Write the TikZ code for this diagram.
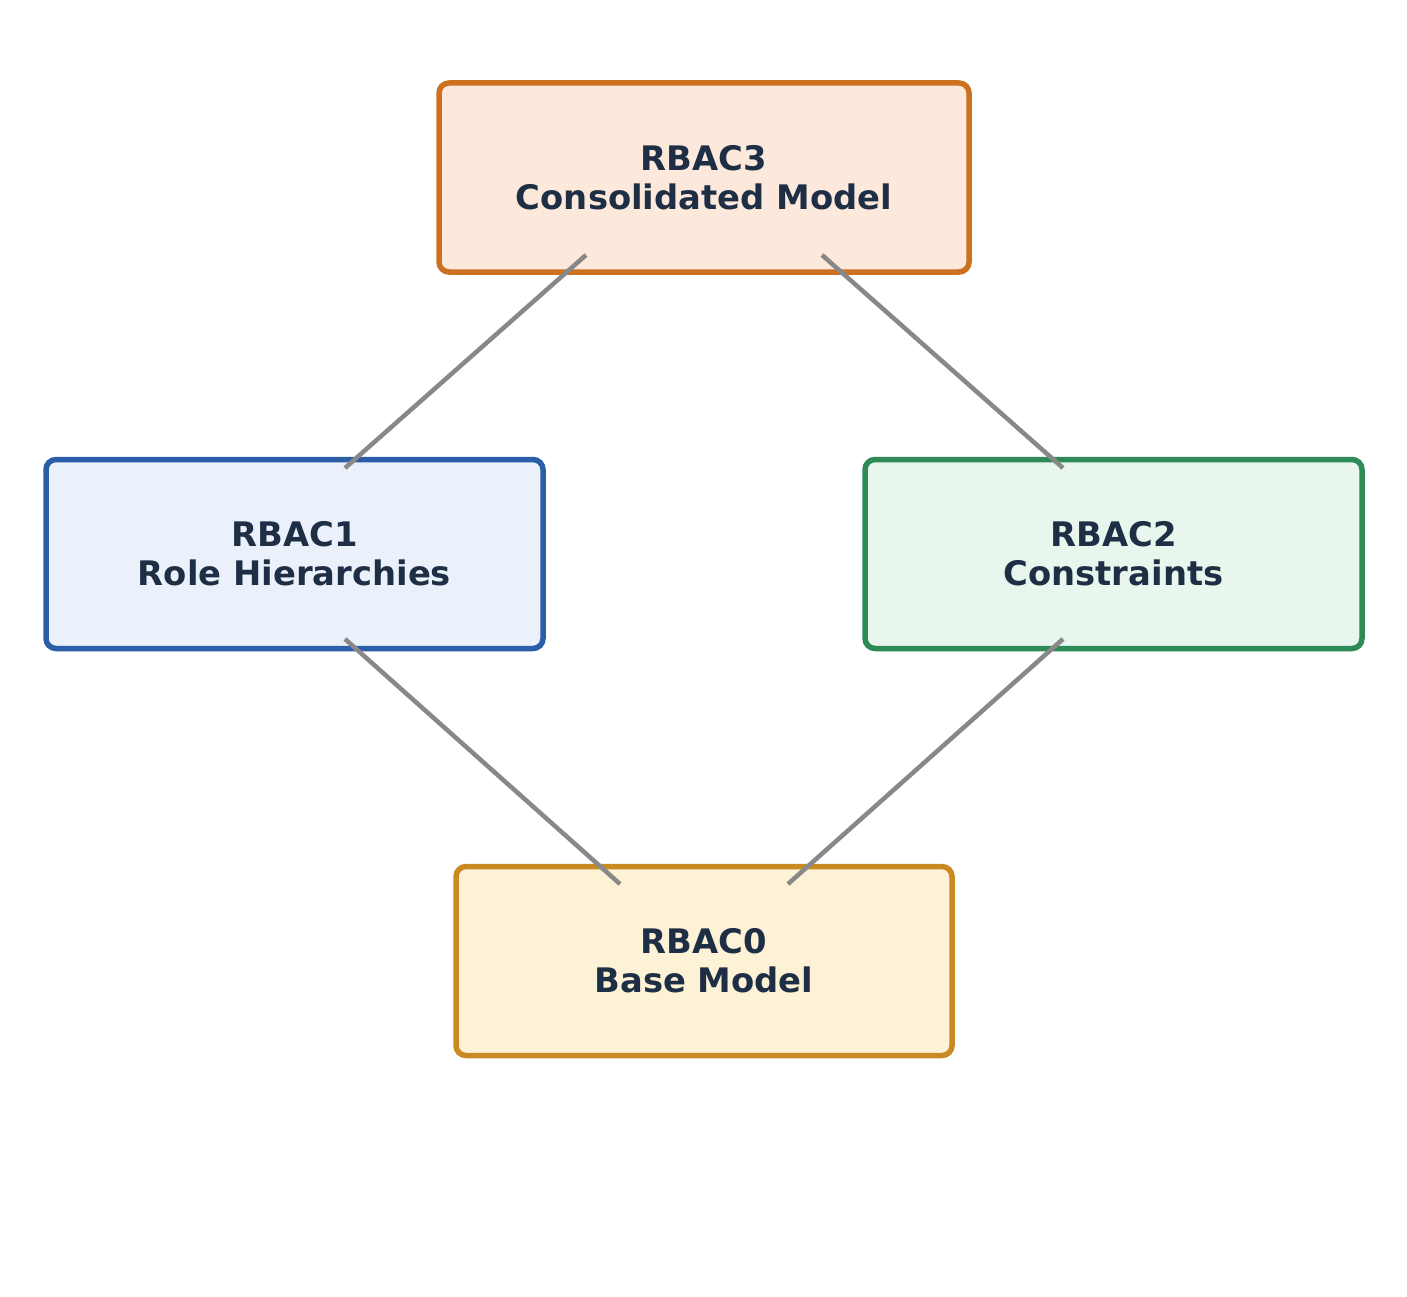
\documentclass[tikz,border=0pt]{standalone}
\usepackage{fontspec}
\setmainfont{DejaVu Sans}
\usetikzlibrary{calc}
\definecolor{txt}{HTML}{1E2F45}
\definecolor{link}{HTML}{888888}
\definecolor{fThree}{HTML}{FCE9DC}\definecolor{bThree}{HTML}{CC7022}
\definecolor{fOne}{HTML}{EAF1FB}\definecolor{bOne}{HTML}{2B5EA8}
\definecolor{fTwo}{HTML}{E8F6EE}\definecolor{bTwo}{HTML}{2E8B57}
\definecolor{fZero}{HTML}{FEF2D6}\definecolor{bZero}{HTML}{C98A22}
\tikzset{
  level/.style={draw, line width=5.5pt, rounded corners=10pt, inner sep=0pt, outer sep=0pt,
    minimum height=189pt, align=center, text=txt,
    font=\fontsize{33.8}{39}\selectfont\bfseries},
  conn/.style={draw=link, line width=4.5pt}
}
\begin{document}
\begin{tikzpicture}[x=1pt,y=-1pt]
\useasboundingbox (0,0) rectangle (1407,1297);
\node[level, fill=fThree, draw=bThree, minimum width=530pt] (r3) at (704,177.5) {RBAC3\\Consolidated Model};
\node[level, fill=fOne, draw=bOne, minimum width=497pt] (r1) at (294.5,554) {RBAC1\\Role Hierarchies};
\node[level, fill=fTwo, draw=bTwo, minimum width=497pt] (r2) at (1113.5,554) {RBAC2\\Constraints};
\node[level, fill=fZero, draw=bZero, minimum width=496pt] (r0) at (704,961) {RBAC0\\Base Model};
\draw[conn] ($(r3.center)+(-118,77.5)$) -- ($(r1.center)+(50.5,-86)$);
\draw[conn] ($(r3.center)+(118,77.5)$) -- ($(r2.center)+(-50.5,-86)$);
\draw[conn] ($(r1.center)+(50.5,85)$) -- ($(r0.center)+(-84,-77)$);
\draw[conn] ($(r2.center)+(-50.5,85)$) -- ($(r0.center)+(84,-77)$);
\end{tikzpicture}
\end{document}
